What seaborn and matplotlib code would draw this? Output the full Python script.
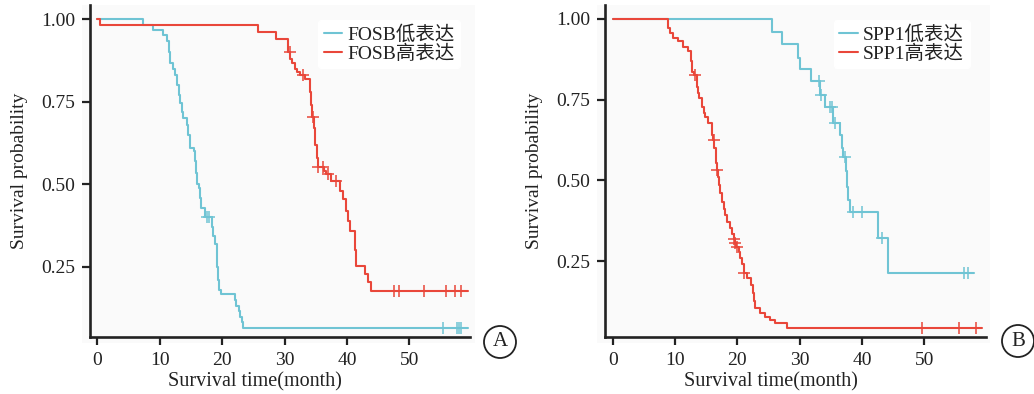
import numpy as np
import matplotlib
matplotlib.use('Agg')
import matplotlib.pyplot as plt
import seaborn as sns
from matplotlib.patches import Ellipse, Rectangle

# ---- data (step points of the KM curves) ----
fosb_low_t = [0, 7.3, 8.9, 10.5, 11.2, 11.5, 11.7, 12.1, 12.5, 12.8, 13.0, 13.2, 13.5, 13.7, 14.3, 14.5,
              14.8, 15.4, 15.6, 15.8, 15.9, 16.2, 16.4, 16.6, 17.3, 18.3, 18.5, 18.9, 19.1, 19.2, 19.3,
              19.5, 19.8, 22.0, 22.2, 22.6, 22.9, 23.2, 23.4, 59.4]
fosb_low_s = [1.0, 0.983, 0.967, 0.951, 0.934, 0.90, 0.868, 0.85, 0.83, 0.80, 0.77, 0.745, 0.72, 0.70, 0.68,
              0.65, 0.61, 0.60, 0.57, 0.535, 0.50, 0.49, 0.46, 0.43, 0.40, 0.37, 0.345, 0.32, 0.29, 0.25,
              0.21, 0.18, 0.167, 0.15, 0.133, 0.117, 0.10, 0.083, 0.066, 0.066]
fosb_low_cens = [17.5, 17.9, 55.3, 57.6, 58.0, 58.3]

fosb_high_t = [0, 0.4, 25.8, 28.6, 30.5, 30.9, 31.2, 31.6, 31.9, 32.5, 33.2, 34.0, 34.2, 34.4, 34.7, 34.9,
               35.1, 35.3, 36.3, 36.7, 37.5, 38.8, 39.3, 39.9, 40.2, 40.5, 41.2, 41.4, 42.8, 43.4, 43.9, 59.4]
fosb_high_s = [1.0, 0.983, 0.961, 0.94, 0.90, 0.88, 0.866, 0.85, 0.84, 0.83, 0.82, 0.78, 0.74, 0.705, 0.67,
               0.62, 0.58, 0.554, 0.54, 0.53, 0.51, 0.48, 0.455, 0.42, 0.39, 0.36, 0.30, 0.252, 0.23, 0.205,
               0.178, 0.178]
fosb_high_cens = [30.8, 32.9, 34.6, 35.4, 36.2, 37.0, 38.2, 47.6, 48.4, 52.3, 55.9, 57.3, 58.2]

spp1_low_t = [0, 25.5, 27.1, 29.8, 30.0, 31.8, 33.3, 34.1, 35.4, 36.5, 36.8, 37.0, 37.5, 37.6, 37.8, 38.0,
              42.5, 44.2, 57.9]
spp1_low_s = [1.0, 0.959, 0.923, 0.88, 0.844, 0.808, 0.764, 0.726, 0.677, 0.64, 0.60, 0.573, 0.53, 0.48,
              0.44, 0.401, 0.32, 0.212, 0.212]
spp1_low_cens = [33.1, 33.5, 34.9, 35.2, 35.6, 37.2, 38.6, 40.0, 43.2, 56.3, 57.0]

spp1_high_t = [0, 8.9, 9.2, 9.7, 10.5, 11.3, 12.1, 12.6, 12.7, 13.0, 13.5, 13.6, 13.7, 13.9, 14.3, 14.6,
               14.8, 15.3, 15.9, 16.0, 16.1, 16.3, 16.5, 16.6, 16.7, 16.9, 17.0, 17.2, 17.5, 17.8, 18.0,
               18.4, 18.8, 19.2, 19.5, 19.6, 19.8, 20.2, 20.5, 20.7, 21.0, 21.6, 22.2, 22.5, 22.7, 22.9,
               23.6, 24.4, 25.2, 26.1, 27.9, 59.2]
spp1_high_s = [1.0, 0.971, 0.956, 0.94, 0.93, 0.914, 0.899, 0.87, 0.837, 0.826, 0.811, 0.79, 0.77, 0.754,
               0.728, 0.71, 0.697, 0.677, 0.661, 0.64, 0.625, 0.60, 0.579, 0.555, 0.532, 0.51, 0.486, 0.46,
               0.434, 0.41, 0.393, 0.37, 0.351, 0.335, 0.318, 0.305, 0.294, 0.279, 0.26, 0.24, 0.212, 0.196,
               0.176, 0.15, 0.125, 0.103, 0.088, 0.077, 0.067, 0.057, 0.041, 0.041]
spp1_high_cens = [13.2, 16.2, 16.8, 19.5, 19.7, 19.9, 21.1, 49.7, 55.6, 58.3]

xticks = [0, 10, 20, 30, 40, 50]
yticks = [0.25, 0.50, 0.75, 1.00]

BLUE = '#6fc4d4'
RED = '#e9473a'
INK = '#222222'

sns.set_theme(style='white')
plt.rcParams['font.family'] = ['Liberation Serif', 'Noto Sans CJK SC']
plt.rcParams['text.color'] = INK


def surv_at(times, surv, pts):
    idx = np.searchsorted(times, pts, side='right') - 1
    return np.asarray(surv)[idx]


def km_panel(ax, curves, xlim, ylim, legend_x):
    for t, s, cens, col, lab in curves:
        sns.lineplot(x=t, y=s, ax=ax, drawstyle='steps-post', estimator=None, sort=False,
                     color=col, lw=1.5, label=lab)
        sns.scatterplot(x=cens, y=surv_at(t, s, cens), ax=ax, marker='+', s=75,
                        color=col, linewidth=1.1, zorder=3)
    ax.set_facecolor('#fafafa')
    ax.set_xlim(*xlim)
    ax.set_ylim(*ylim)
    ax.set_xticks(xticks)
    ax.set_yticks(yticks)
    ax.set_yticklabels([f'{v:.2f}' for v in yticks])
    for side in ['top', 'right']:
        ax.spines[side].set_visible(False)
    for side in ['left', 'bottom']:
        ax.spines[side].set_color(INK)
        ax.spines[side].set_linewidth(1.9)
    ax.tick_params(axis='both', direction='out', length=5.5, width=1.6, color=INK,
                   labelsize=14, labelcolor=INK, pad=5, bottom=True, left=True)
    ax.set_xlabel('Survival time(month)', fontsize=14.5, color=INK)
    ax.set_ylabel('Survival probability', fontsize=14, color=INK)
    ax.xaxis.set_label_coords(0.435, -0.105)
    ax.yaxis.set_label_coords(-0.162, 0.5)
    leg = ax.legend(loc='upper left', bbox_to_anchor=(legend_x, 0.955), frameon=True,
                    fontsize=14, handlelength=0.95, handletextpad=0.25, labelspacing=0.0,
                    borderpad=0.3, borderaxespad=0)
    leg.get_frame().set_facecolor('white')
    leg.get_frame().set_edgecolor('white')
    leg.get_frame().set_alpha(1)


fig = plt.figure(figsize=(10.34, 3.94), dpi=100)
W, H = 1034, 394

# faint panel backgrounds
for x0, x1 in [(82, 475), (597, 990)]:
    fig.patches.append(Rectangle((x0 / W, 1 - 343 / H), (x1 - x0) / W, 338 / H,
                                 transform=fig.transFigure, facecolor='#fafafa',
                                 edgecolor='none', zorder=-5))

axA = fig.add_axes([90 / W, 57 / H, 380 / W, 332 / H])
axB = fig.add_axes([605 / W, 57 / H, 381 / W, 332 / H])

km_panel(axA, [(fosb_low_t, fosb_low_s, fosb_low_cens, BLUE, 'FOSB低表达'),
               (fosb_high_t, fosb_high_s, fosb_high_cens, RED, 'FOSB高表达')],
         (-1.2, 59.7), (0.038, 1.043), 0.6)
km_panel(axB, [(spp1_low_t, spp1_low_s, spp1_low_cens, BLUE, 'SPP1低表达'),
               (spp1_high_t, spp1_high_s, spp1_high_cens, RED, 'SPP1高表达')],
         (-1.24, 59.9), (0.0146, 1.043), 0.6)

# circled panel letters
for cx, cy, letter in [(500, 342, 'A'), (1018, 341, 'B')]:
    fig.patches.append(Ellipse((cx / W, 1 - cy / H), 32 / W, 32 / H, transform=fig.transFigure,
                               facecolor='white', edgecolor=INK, lw=1.3))
    fig.text(cx / W, 1 - cy / H, letter, ha='center', va='center', fontsize=15, color=INK)

fig.savefig('out.png', dpi=100)
